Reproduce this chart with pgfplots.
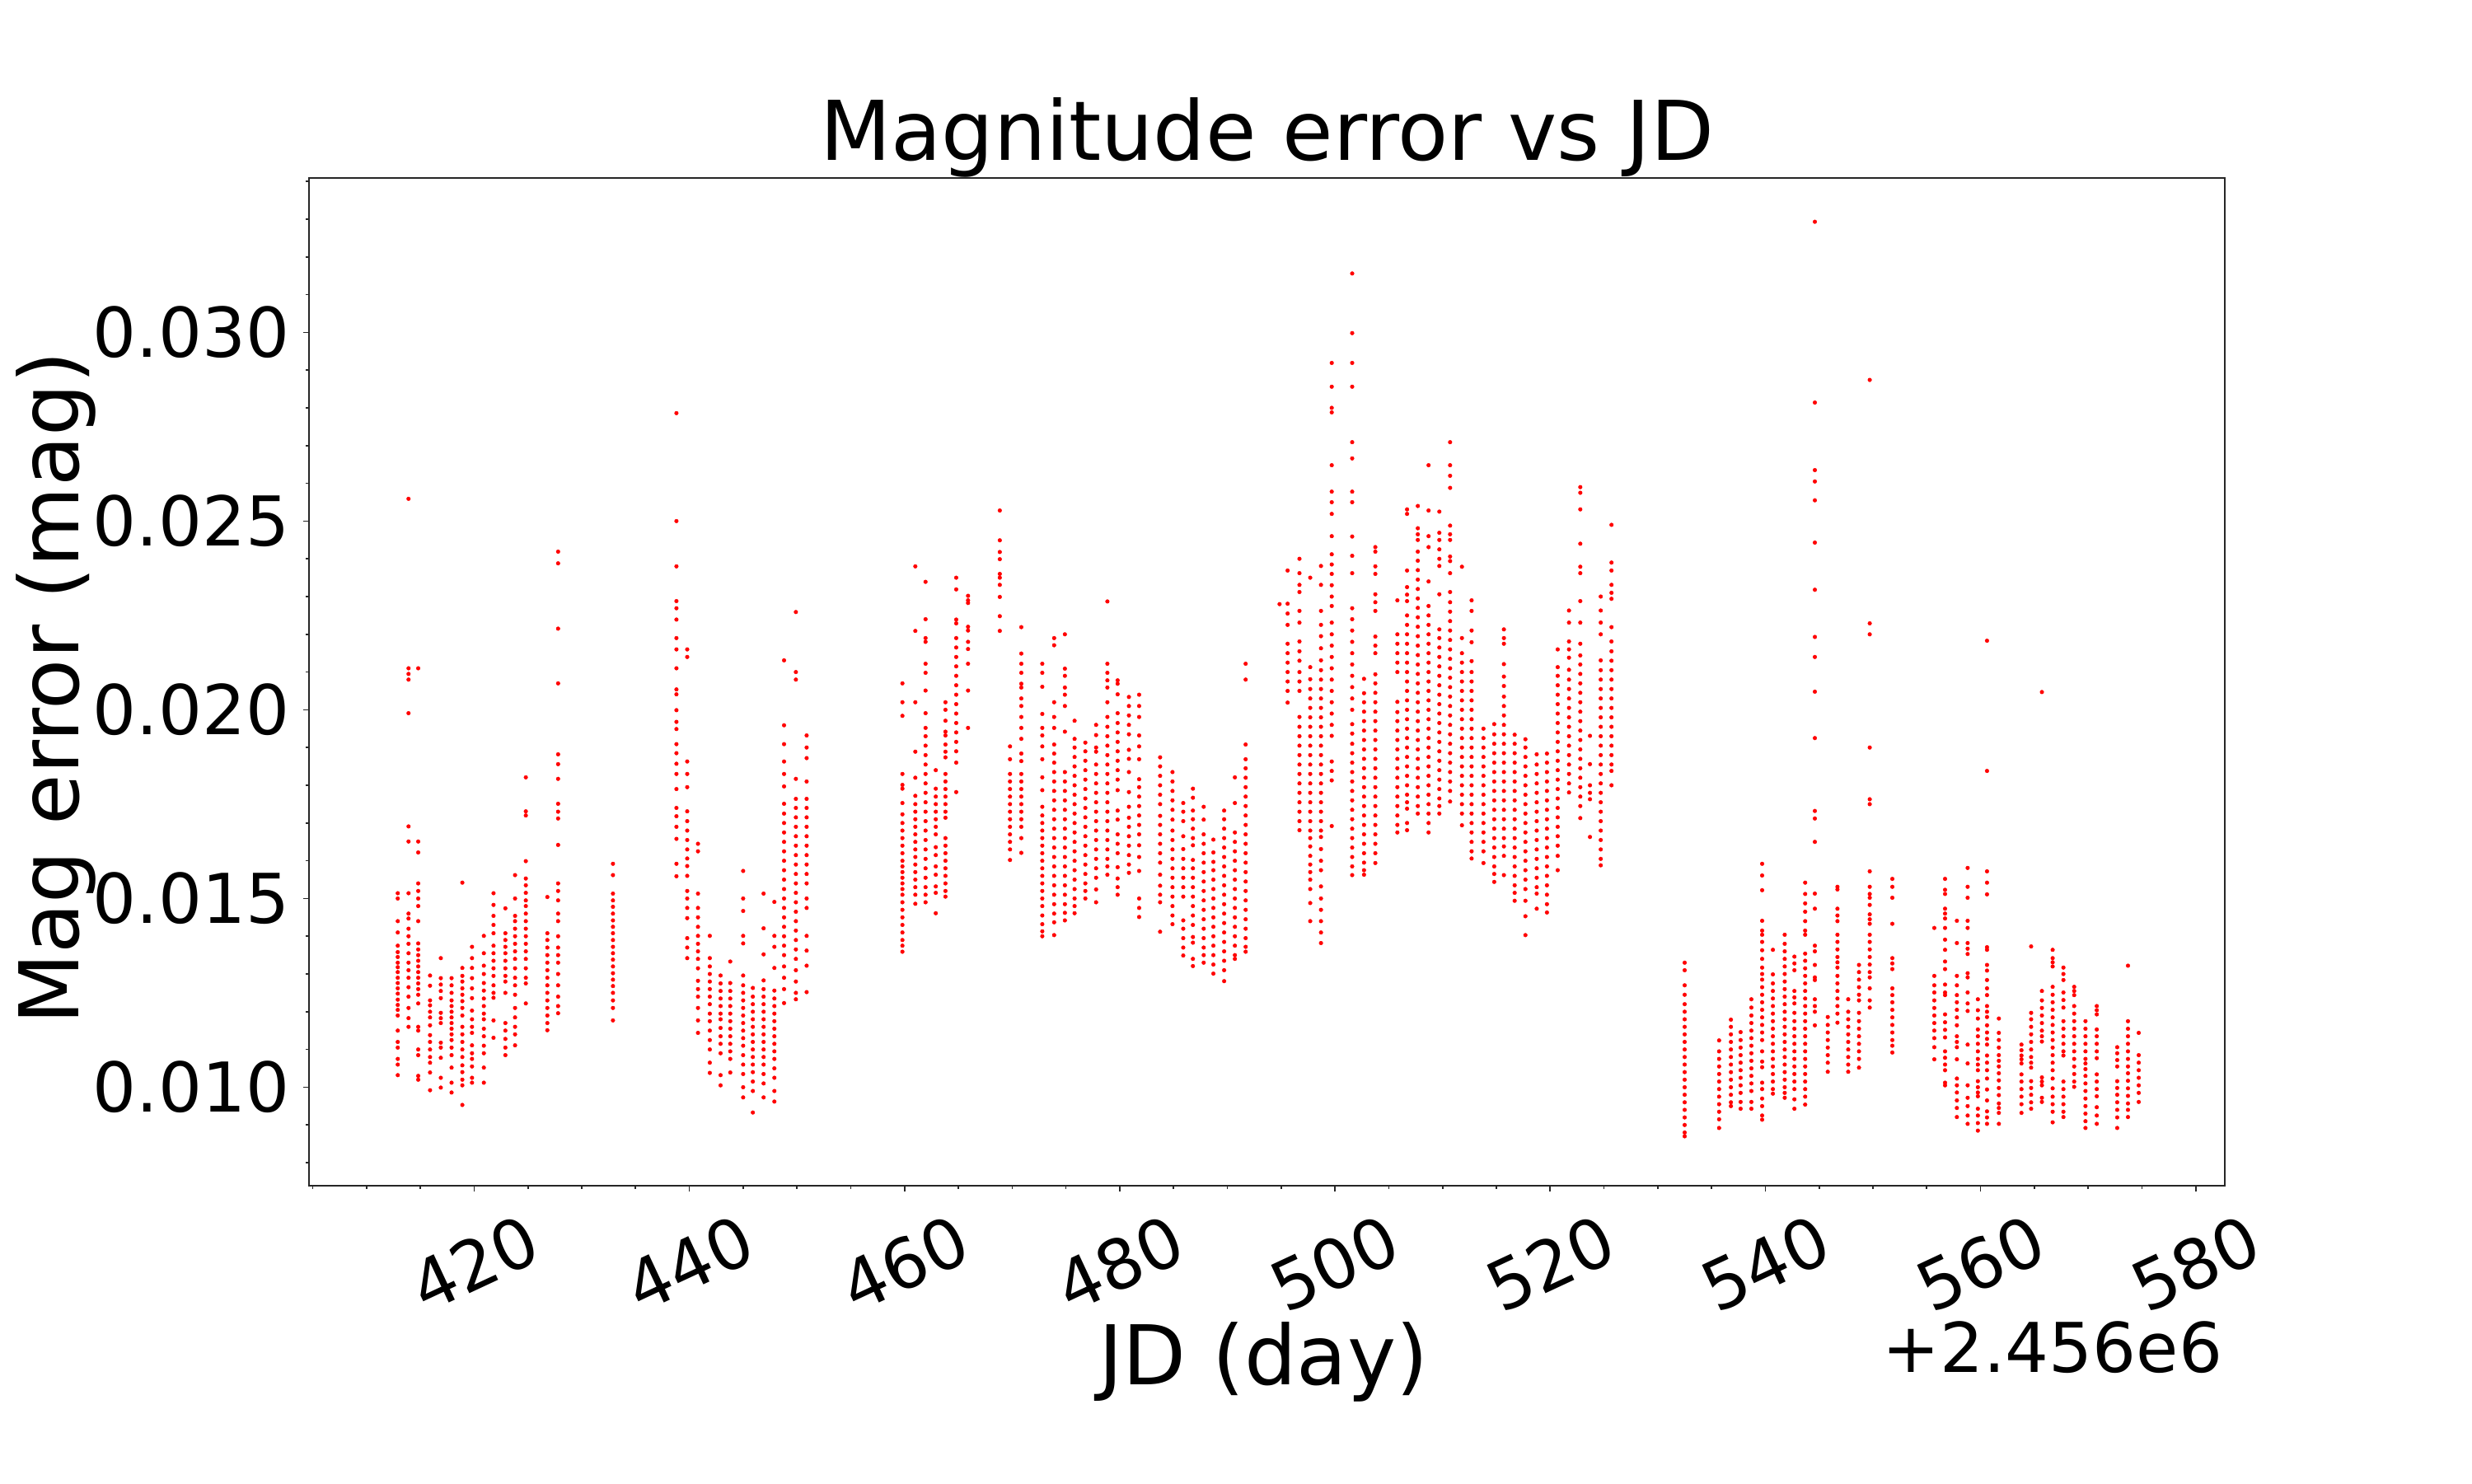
\documentclass[border=0pt]{standalone}
\usepackage{fontspec}
\setmainfont{DejaVu Sans}
\usepackage{graphicx}
\usepackage{pgfplots}
\pgfplotsset{compat=1.18}
\begin{document}
\begin{tikzpicture}
\path[use as bounding box] (0,0) rectangle (720pt,432pt);
\begin{axis}[
  at={(90pt,86.64pt)}, anchor=south west,
  width=558pt, height=293.52pt, scale only axis,
  xmin=404.65, xmax=582.70, ymin=0.00739, ymax=0.03409,
  axis line style={black!85, line width=0.4pt},
  tick pos=left, tick align=outside,
  major tick length=1.75pt, minor tick length=1pt,
  every tick/.style={black!85, line width=0.4pt},
  scaled x ticks=false, scaled y ticks=false,
  xtick={420,440,460,480,500,520,540,560,580},
  xticklabels={\rotatebox{25}{420},\rotatebox{25}{440},\rotatebox{25}{460},\rotatebox{25}{480},\rotatebox{25}{500},\rotatebox{25}{520},\rotatebox{25}{540},\rotatebox{25}{560},\rotatebox{25}{580}},
  minor xtick={405,410,...,580},
  ytick={0.010,0.015,0.020,0.025,0.030},
  yticklabels={0.010,0.015,0.020,0.025,0.030},
  minor ytick={0.008,0.009,0.010,0.011,0.012,0.013,0.014,0.015,0.016,0.017,0.018,0.019,0.020,0.021,0.022,0.023,0.024,0.025,0.026,0.027,0.028,0.029,0.030,0.031,0.032,0.033,0.034},
  tick label style={font=\fontsize{20}{24}\selectfont, black},
  xticklabel style={anchor=north, inner sep=0pt, yshift=-5.8pt},
  yticklabel style={anchor=east, inner sep=0pt, xshift=-3.7pt},
]
\addplot[color=red, only marks, mark=*, mark size=0.55pt, mark options={solid, fill=red, draw=red, line width=0.1pt}] coordinates {
(412.9,0.01514)(412.9,0.01500)(412.9,0.01440)(412.9,0.01410)(412.9,0.01375)(412.9,0.01358)(412.9,0.01345)(412.9,0.01330)(412.9,0.01318)(412.9,0.01305)(412.9,0.01290)(412.9,0.01276)(412.9,0.01262)(412.9,0.01248)(412.9,0.01232)(412.9,0.01218)(412.9,0.01205)(412.9,0.01190)(412.9,0.01150)(412.9,0.01120)(412.9,0.01105)(412.9,0.01075)(412.9,0.01060)(412.9,0.01032)
(413.9,0.02559)(413.9,0.02110)(413.9,0.02095)(413.9,0.02080)(413.9,0.01991)(413.9,0.01691)(413.9,0.01651)(413.9,0.01514)(413.9,0.01460)(413.9,0.01447)(413.9,0.01420)(413.9,0.01400)(413.9,0.01380)(413.9,0.01355)(413.9,0.01330)(413.9,0.01310)(413.9,0.01290)(413.9,0.01265)(413.9,0.01240)(413.9,0.01210)(413.9,0.01183)(413.9,0.01160)
(414.8,0.02110)(414.8,0.01651)(414.8,0.01622)(414.8,0.01540)(414.8,0.01520)(414.8,0.01500)(414.8,0.01480)(414.8,0.01440)(414.8,0.01381)(414.8,0.01365)(414.8,0.01350)(414.8,0.01335)(414.8,0.01320)(414.8,0.01305)(414.8,0.01290)(414.8,0.01275)(414.8,0.01260)(414.8,0.01245)(414.8,0.01222)(414.8,0.01160)(414.8,0.01150)(414.8,0.01100)(414.8,0.01085)(414.8,0.01030)(414.8,0.01020)
(415.9,0.01296)(415.9,0.01269)(415.9,0.01230)(415.9,0.01217)(415.9,0.01200)(415.9,0.01185)(415.9,0.01164)(415.9,0.01138)(415.9,0.01120)(415.9,0.01100)(415.9,0.01080)(415.9,0.01065)(415.9,0.01039)(415.9,0.00992)
(416.9,0.01342)(416.9,0.01289)(416.9,0.01272)(416.9,0.01255)(416.9,0.01236)(416.9,0.01197)(416.9,0.01183)(416.9,0.01170)(416.9,0.01118)(416.9,0.01105)(416.9,0.01078)(416.9,0.01025)(416.9,0.00999)
(417.9,0.01289)(417.9,0.01270)(417.9,0.01250)(417.9,0.01230)(417.9,0.01215)(417.9,0.01200)(417.9,0.01185)(417.9,0.01170)(417.9,0.01155)(417.9,0.01140)(417.9,0.01125)(417.9,0.01105)(417.9,0.01085)(417.9,0.01052)(417.9,0.01012)(417.9,0.00986)
(418.9,0.01542)(418.9,0.01316)(418.9,0.01295)(418.9,0.01280)(418.9,0.01262)(418.9,0.01245)(418.9,0.01228)(418.9,0.01210)(418.9,0.01190)(418.9,0.01160)(418.9,0.01140)(418.9,0.01120)(418.9,0.01100)(418.9,0.01080)(418.9,0.01058)(418.9,0.01040)(418.9,0.01020)(418.9,0.01005)(418.9,0.00953)
(419.8,0.01372)(419.8,0.01342)(419.8,0.01316)(419.8,0.01289)(419.8,0.01262)(419.8,0.01236)(419.8,0.01203)(419.8,0.01180)(419.8,0.01160)(419.8,0.01144)(419.8,0.01111)(419.8,0.01090)(419.8,0.01075)(419.8,0.01055)(419.8,0.01025)(419.8,0.01012)
(420.9,0.01401)(420.9,0.01355)(420.9,0.01322)(420.9,0.01300)(420.9,0.01276)(420.9,0.01256)(420.9,0.01235)(420.9,0.01215)(420.9,0.01195)(420.9,0.01180)(420.9,0.01155)(420.9,0.01135)(420.9,0.01110)(420.9,0.01090)(420.9,0.01052)(420.9,0.01012)
(421.8,0.01514)(421.8,0.01483)(421.8,0.01454)(421.8,0.01430)(421.8,0.01408)(421.8,0.01375)(421.8,0.01355)(421.8,0.01335)(421.8,0.01315)(421.8,0.01295)(421.8,0.01270)(421.8,0.01250)(421.8,0.01237)(421.8,0.01177)(421.8,0.01131)
(422.9,0.01474)(422.9,0.01408)(422.9,0.01390)(422.9,0.01372)(422.9,0.01355)(422.9,0.01335)(422.9,0.01315)(422.9,0.01295)(422.9,0.01280)(422.9,0.01250)(422.9,0.01170)(422.9,0.01150)(422.9,0.01128)(422.9,0.01105)(422.9,0.01085)
(423.8,0.01562)(423.8,0.01500)(423.8,0.01454)(423.8,0.01440)(423.8,0.01420)(423.8,0.01400)(423.8,0.01380)(423.8,0.01360)(423.8,0.01340)(423.8,0.01315)(423.8,0.01290)(423.8,0.01270)(423.8,0.01245)(423.8,0.01210)(423.8,0.01185)(423.8,0.01160)(423.8,0.01140)(423.8,0.01111)
(424.8,0.01821)(424.8,0.01731)(424.8,0.01720)(424.8,0.01599)(424.8,0.01553)(424.8,0.01535)(424.8,0.01515)(424.8,0.01495)(424.8,0.01480)(424.8,0.01460)(424.8,0.01440)(424.8,0.01420)(424.8,0.01400)(424.8,0.01380)(424.8,0.01360)(424.8,0.01340)(424.8,0.01315)(424.8,0.01290)(424.8,0.01275)(424.8,0.01222)
(426.8,0.01504)(426.8,0.01408)(426.8,0.01390)(426.8,0.01370)(426.8,0.01350)(426.8,0.01330)(426.8,0.01310)(426.8,0.01290)(426.8,0.01270)(426.8,0.01250)(426.8,0.01230)(426.8,0.01210)(426.8,0.01190)(426.8,0.01170)(426.8,0.01151)
(427.8,0.02419)(427.8,0.02388)(427.8,0.02215)(427.8,0.02070)(427.8,0.01882)(427.8,0.01856)(427.8,0.01817)(427.8,0.01751)(427.8,0.01730)(427.8,0.01712)(427.8,0.01642)(427.8,0.01540)(427.8,0.01520)(427.8,0.01495)(427.8,0.01460)(427.8,0.01440)(427.8,0.01400)(427.8,0.01370)(427.8,0.01350)(427.8,0.01330)(427.8,0.01300)(427.8,0.01270)(427.8,0.01240)(427.8,0.01215)(427.8,0.01196)
(432.9,0.01592)(432.9,0.01562)(432.9,0.01513)(432.9,0.01495)(432.9,0.01478)(432.9,0.01460)(432.9,0.01442)(432.9,0.01425)(432.9,0.01408)(432.9,0.01390)(432.9,0.01372)(432.9,0.01355)(432.9,0.01338)(432.9,0.01320)(432.9,0.01302)(432.9,0.01285)(432.9,0.01268)(432.9,0.01250)(432.9,0.01230)(432.9,0.01210)(432.9,0.01177)
(438.8,0.02786)(438.8,0.02500)(438.8,0.02380)(438.8,0.02288)(438.8,0.02269)(438.8,0.02239)(438.8,0.02190)(438.8,0.02160)(438.8,0.02110)(438.8,0.02054)(438.8,0.02041)(438.8,0.01999)(438.8,0.01968)(438.8,0.01949)(438.8,0.01909)(438.8,0.01885)(438.8,0.01857)(438.8,0.01830)(438.8,0.01790)(438.8,0.01740)(438.8,0.01718)(438.8,0.01690)(438.8,0.01658)(438.8,0.01592)(438.8,0.01559)
(439.8,0.02160)(439.8,0.02140)(439.8,0.01863)(439.8,0.01830)(439.8,0.01795)(439.8,0.01731)(439.8,0.01705)(439.8,0.01680)(439.8,0.01655)(439.8,0.01630)(439.8,0.01606)(439.8,0.01586)(439.8,0.01560)(439.8,0.01520)(439.8,0.01500)(439.8,0.01475)(439.8,0.01448)(439.8,0.01395)(439.8,0.01370)(439.8,0.01342)
(440.8,0.01645)(440.8,0.01625)(440.8,0.01513)(440.8,0.01475)(440.8,0.01450)(440.8,0.01425)(440.8,0.01401)(440.8,0.01380)(440.8,0.01360)(440.8,0.01340)(440.8,0.01315)(440.8,0.01282)(440.8,0.01260)(440.8,0.01240)(440.8,0.01210)(440.8,0.01177)(440.8,0.01144)
(441.9,0.01401)(441.9,0.01342)(441.9,0.01320)(441.9,0.01300)(441.9,0.01280)(441.9,0.01260)(441.9,0.01240)(441.9,0.01220)(441.9,0.01195)(441.9,0.01175)(441.9,0.01150)(441.9,0.01125)(441.9,0.01100)(441.9,0.01065)(441.9,0.01038)
(442.9,0.01296)(442.9,0.01275)(442.9,0.01255)(442.9,0.01235)(442.9,0.01215)(442.9,0.01195)(442.9,0.01180)(442.9,0.01157)(442.9,0.01135)(442.9,0.01115)(442.9,0.01090)(442.9,0.01032)(442.9,0.01005)
(443.8,0.01333)(443.8,0.01276)(443.8,0.01255)(443.8,0.01235)(443.8,0.01215)(443.8,0.01195)(443.8,0.01175)(443.8,0.01155)(443.8,0.01135)(443.8,0.01115)(443.8,0.01095)(443.8,0.01075)(443.8,0.01039)
(445.0,0.01573)(445.0,0.01500)(445.0,0.01467)(445.0,0.01401)(445.0,0.01381)(445.0,0.01296)(445.0,0.01270)(445.0,0.01250)(445.0,0.01230)(445.0,0.01210)(445.0,0.01190)(445.0,0.01170)(445.0,0.01150)(445.0,0.01130)(445.0,0.01110)(445.0,0.01085)(445.0,0.01060)(445.0,0.01035)(445.0,0.01000)(445.0,0.00973)
(445.9,0.01263)(445.9,0.01240)(445.9,0.01220)(445.9,0.01200)(445.9,0.01180)(445.9,0.01160)(445.9,0.01140)(445.9,0.01120)(445.9,0.01100)(445.9,0.01080)(445.9,0.01060)(445.9,0.01040)(445.9,0.01015)(445.9,0.00990)(445.9,0.00933)
(446.9,0.01513)(446.9,0.01421)(446.9,0.01352)(446.9,0.01283)(446.9,0.01260)(446.9,0.01240)(446.9,0.01220)(446.9,0.01200)(446.9,0.01180)(446.9,0.01160)(446.9,0.01140)(446.9,0.01120)(446.9,0.01100)(446.9,0.01080)(446.9,0.01060)(446.9,0.01035)(446.9,0.01010)(446.9,0.00973)
(447.9,0.01491)(447.9,0.01401)(447.9,0.01372)(447.9,0.01316)(447.9,0.01256)(447.9,0.01235)(447.9,0.01215)(447.9,0.01195)(447.9,0.01175)(447.9,0.01155)(447.9,0.01135)(447.9,0.01115)(447.9,0.01095)(447.9,0.01075)(447.9,0.01050)(447.9,0.01025)(447.9,0.00990)(447.9,0.00962)
(448.8,0.02131)(448.8,0.01959)(448.8,0.01909)(448.8,0.01863)(448.8,0.01830)(448.8,0.01797)(448.8,0.01751)(448.8,0.01725)(448.8,0.01700)(448.8,0.01675)(448.8,0.01650)(448.8,0.01625)(448.8,0.01600)(448.8,0.01575)(448.8,0.01550)(448.8,0.01525)(448.8,0.01500)(448.8,0.01475)(448.8,0.01450)(448.8,0.01425)(448.8,0.01400)(448.8,0.01375)(448.8,0.01350)(448.8,0.01320)(448.8,0.01290)(448.8,0.01260)(448.8,0.01223)
(449.9,0.02259)(449.9,0.02100)(449.9,0.02080)(449.9,0.01817)(449.9,0.01764)(449.9,0.01740)(449.9,0.01715)(449.9,0.01690)(449.9,0.01665)(449.9,0.01640)(449.9,0.01615)(449.9,0.01590)(449.9,0.01565)(449.9,0.01540)(449.9,0.01515)(449.9,0.01490)(449.9,0.01465)(449.9,0.01440)(449.9,0.01415)(449.9,0.01390)(449.9,0.01365)(449.9,0.01340)(449.9,0.01310)(449.9,0.01280)(449.9,0.01250)(449.9,0.01233)
(450.9,0.01932)(450.9,0.01900)(450.9,0.01872)(450.9,0.01810)(450.9,0.01764)(450.9,0.01740)(450.9,0.01715)(450.9,0.01690)(450.9,0.01665)(450.9,0.01640)(450.9,0.01615)(450.9,0.01590)(450.9,0.01565)(450.9,0.01540)(450.9,0.01500)(450.9,0.01475)(450.9,0.01401)(450.9,0.01362)(450.9,0.01322)(450.9,0.01252)
(459.8,0.02070)(459.8,0.02020)(459.8,0.01984)(459.8,0.01830)(459.8,0.01801)(459.8,0.01791)(459.8,0.01753)(459.8,0.01723)(459.8,0.01700)(459.8,0.01680)(459.8,0.01660)(459.8,0.01640)(459.8,0.01620)(459.8,0.01600)(459.8,0.01585)(459.8,0.01570)(459.8,0.01555)(459.8,0.01540)(459.8,0.01525)(459.8,0.01510)(459.8,0.01490)(459.8,0.01470)(459.8,0.01450)(459.8,0.01430)(459.8,0.01410)(459.8,0.01390)(459.8,0.01375)(459.8,0.01359)
(461.0,0.02380)(461.0,0.02209)(461.0,0.02020)(461.0,0.01889)(461.0,0.01820)(461.0,0.01772)(461.0,0.01750)(461.0,0.01730)(461.0,0.01710)(461.0,0.01690)(461.0,0.01670)(461.0,0.01650)(461.0,0.01630)(461.0,0.01610)(461.0,0.01590)(461.0,0.01570)(461.0,0.01550)(461.0,0.01530)(461.0,0.01510)(461.0,0.01486)
(461.95,0.02339)(461.95,0.02240)(461.95,0.02190)(461.95,0.02180)(461.95,0.02122)(461.95,0.02098)(461.95,0.02051)(461.95,0.01991)(461.95,0.01952)(461.95,0.01930)(461.95,0.01905)(461.95,0.01880)(461.95,0.01855)(461.95,0.01830)(461.95,0.01805)(461.95,0.01780)(461.95,0.01755)(461.95,0.01730)(461.95,0.01705)(461.95,0.01680)(461.95,0.01655)(461.95,0.01630)(461.95,0.01605)(461.95,0.01580)(461.95,0.01555)(461.95,0.01530)(461.95,0.01510)(461.95,0.01490)
(462.9,0.01840)(462.9,0.01791)(462.9,0.01770)(462.9,0.01750)(462.9,0.01730)(462.9,0.01710)(462.9,0.01690)(462.9,0.01670)(462.9,0.01636)(462.9,0.01615)(462.9,0.01585)(462.9,0.01563)(462.9,0.01532)(462.9,0.01515)(462.9,0.01461)
(463.8,0.02020)(463.8,0.02000)(463.8,0.01971)(463.8,0.01942)(463.8,0.01932)(463.8,0.01908)(463.8,0.01889)(463.8,0.01874)(463.8,0.01830)(463.8,0.01810)(463.8,0.01790)(463.8,0.01770)(463.8,0.01750)(463.8,0.01730)(463.8,0.01714)(463.8,0.01660)(463.8,0.01640)(463.8,0.01620)(463.8,0.01600)(463.8,0.01580)(463.8,0.01560)(463.8,0.01540)(463.8,0.01520)(463.8,0.01505)
(464.8,0.02350)(464.8,0.02319)(464.8,0.02239)(464.8,0.02229)(464.8,0.02190)(464.8,0.02165)(464.8,0.02140)(464.8,0.02115)(464.8,0.02090)(464.8,0.02065)(464.8,0.02040)(464.8,0.02015)(464.8,0.01990)(464.8,0.01965)(464.8,0.01940)(464.8,0.01915)(464.8,0.01890)(464.8,0.01860)(464.8,0.01782)
(465.9,0.02302)(465.9,0.02290)(465.9,0.02283)(465.9,0.02220)(465.9,0.02210)(465.9,0.02180)(465.9,0.02161)(465.9,0.02122)(465.9,0.02051)(465.9,0.01952)
(468.85,0.02528)(468.85,0.02449)(468.85,0.02418)(468.85,0.02399)(468.85,0.02360)(468.85,0.02350)(468.85,0.02331)(468.85,0.02299)(468.85,0.02248)(468.85,0.02209)
(469.8,0.01903)(469.8,0.01869)(469.8,0.01830)(469.8,0.01810)(469.8,0.01790)(469.8,0.01770)(469.8,0.01750)(469.8,0.01730)(469.8,0.01710)(469.8,0.01690)(469.8,0.01670)(469.8,0.01650)(469.8,0.01630)(469.8,0.01602)
(470.85,0.02219)(470.85,0.02149)(470.85,0.02122)(470.85,0.02098)(470.85,0.02069)(470.85,0.02059)(470.85,0.02030)(470.85,0.02010)(470.85,0.01981)(470.85,0.01952)(470.85,0.01923)(470.85,0.01884)(470.85,0.01864)(470.85,0.01830)(470.85,0.01810)(470.85,0.01790)(470.85,0.01770)(470.85,0.01750)(470.85,0.01730)(470.85,0.01710)(470.85,0.01690)(470.85,0.01660)(470.85,0.01621)
(472.8,0.02122)(472.8,0.02098)(472.8,0.02061)(472.8,0.01989)(472.8,0.01952)(472.8,0.01932)(472.8,0.01903)(472.8,0.01869)(472.8,0.01821)(472.8,0.01787)(472.8,0.01743)(472.8,0.01720)(472.8,0.01700)(472.8,0.01680)(472.8,0.01660)(472.8,0.01640)(472.8,0.01620)(472.8,0.01600)(472.8,0.01580)(472.8,0.01560)(472.8,0.01540)(472.8,0.01520)(472.8,0.01500)(472.8,0.01480)(472.8,0.01455)(472.8,0.01432)(472.8,0.01413)(472.8,0.01400)
(473.9,0.02190)(473.9,0.02171)(473.9,0.02020)(473.9,0.01981)(473.9,0.01952)(473.9,0.01908)(473.9,0.01884)(473.9,0.01860)(473.9,0.01835)(473.9,0.01810)(473.9,0.01785)(473.9,0.01760)(473.9,0.01735)(473.9,0.01710)(473.9,0.01685)(473.9,0.01660)(473.9,0.01635)(473.9,0.01610)(473.9,0.01585)(473.9,0.01560)(473.9,0.01535)(473.9,0.01510)(473.9,0.01485)(473.9,0.01460)(473.9,0.01437)(473.9,0.01403)
(474.9,0.02200)(474.9,0.02109)(474.9,0.02090)(474.9,0.02059)(474.9,0.02040)(474.9,0.02010)(474.9,0.01942)(474.9,0.01835)(474.9,0.01810)(474.9,0.01785)(474.9,0.01760)(474.9,0.01735)(474.9,0.01710)(474.9,0.01685)(474.9,0.01660)(474.9,0.01635)(474.9,0.01610)(474.9,0.01585)(474.9,0.01560)(474.9,0.01535)(474.9,0.01510)(474.9,0.01485)(474.9,0.01462)(474.9,0.01442)
(475.8,0.01971)(475.8,0.01923)(475.8,0.01900)(475.8,0.01875)(475.8,0.01850)(475.8,0.01825)(475.8,0.01800)(475.8,0.01775)(475.8,0.01750)(475.8,0.01725)(475.8,0.01700)(475.8,0.01675)(475.8,0.01650)(475.8,0.01625)(475.8,0.01600)(475.8,0.01575)(475.8,0.01550)(475.8,0.01525)(475.8,0.01500)(475.8,0.01480)(475.8,0.01461)
(476.8,0.01913)(476.8,0.01890)(476.8,0.01865)(476.8,0.01840)(476.8,0.01815)(476.8,0.01790)(476.8,0.01765)(476.8,0.01740)(476.8,0.01715)(476.8,0.01690)(476.8,0.01665)(476.8,0.01640)(476.8,0.01615)(476.8,0.01590)(476.8,0.01565)(476.8,0.01540)(476.8,0.01520)(476.8,0.01500)
(477.8,0.01960)(477.8,0.01933)(477.8,0.01900)(477.8,0.01889)(477.8,0.01855)(477.8,0.01830)(477.8,0.01805)(477.8,0.01780)(477.8,0.01755)(477.8,0.01730)(477.8,0.01705)(477.8,0.01680)(477.8,0.01655)(477.8,0.01630)(477.8,0.01605)(477.8,0.01580)(477.8,0.01555)(477.8,0.01524)(477.8,0.01490)
(478.85,0.02287)(478.85,0.02122)(478.85,0.02098)(478.85,0.02078)(478.85,0.02059)(478.85,0.02020)(478.85,0.01981)(478.85,0.01955)(478.85,0.01930)(478.85,0.01905)(478.85,0.01880)(478.85,0.01855)(478.85,0.01830)(478.85,0.01805)(478.85,0.01780)(478.85,0.01755)(478.85,0.01730)(478.85,0.01705)(478.85,0.01680)(478.85,0.01655)(478.85,0.01630)(478.85,0.01605)(478.85,0.01585)(478.85,0.01563)
(479.8,0.02078)(479.8,0.02069)(479.8,0.02041)(479.8,0.01991)(479.8,0.01965)(479.8,0.01940)(479.8,0.01915)(479.8,0.01890)(479.8,0.01865)(479.8,0.01840)(479.8,0.01815)(479.8,0.01787)(479.8,0.01733)(479.8,0.01709)(479.8,0.01670)(479.8,0.01645)(479.8,0.01620)(479.8,0.01583)(479.8,0.01553)(479.8,0.01530)(479.8,0.01510)
(480.85,0.02034)(480.85,0.02010)(480.85,0.01985)(480.85,0.01960)(480.85,0.01935)(480.85,0.01894)(480.85,0.01870)(480.85,0.01835)(480.85,0.01782)(480.85,0.01743)(480.85,0.01714)(480.85,0.01690)(480.85,0.01665)(480.85,0.01640)(480.85,0.01615)(480.85,0.01590)(480.85,0.01568)
(481.8,0.02040)(481.8,0.02010)(481.8,0.01981)(481.8,0.01932)(481.8,0.01903)(481.8,0.01869)(481.8,0.01816)(481.8,0.01795)(481.8,0.01770)(481.8,0.01745)(481.8,0.01720)(481.8,0.01695)(481.8,0.01670)(481.8,0.01641)(481.8,0.01610)(481.8,0.01573)(481.8,0.01500)(481.8,0.01475)(481.8,0.01451)
(483.75,0.01874)(483.75,0.01850)(483.75,0.01825)(483.75,0.01800)(483.75,0.01775)(483.75,0.01750)(483.75,0.01719)(483.75,0.01695)(483.75,0.01670)(483.75,0.01645)(483.75,0.01620)(483.75,0.01595)(483.75,0.01563)(483.75,0.01534)(483.75,0.01510)(483.75,0.01490)(483.75,0.01412)
(484.9,0.01835)(484.9,0.01810)(484.9,0.01785)(484.9,0.01760)(484.9,0.01735)(484.9,0.01709)(484.9,0.01680)(484.9,0.01655)(484.9,0.01630)(484.9,0.01605)(484.9,0.01580)(484.9,0.01555)(484.9,0.01530)(484.9,0.01505)(484.9,0.01480)(484.9,0.01455)(484.9,0.01432)
(485.9,0.01753)(485.9,0.01730)(485.9,0.01705)(485.9,0.01665)(485.9,0.01631)(485.9,0.01605)(485.9,0.01580)(485.9,0.01555)(485.9,0.01530)(485.9,0.01505)(485.9,0.01442)(485.9,0.01420)(485.9,0.01395)(485.9,0.01370)(485.9,0.01349)
(486.8,0.01791)(486.8,0.01767)(486.8,0.01733)(486.8,0.01710)(486.8,0.01685)(486.8,0.01660)(486.8,0.01641)(486.8,0.01602)(486.8,0.01580)(486.8,0.01555)(486.8,0.01530)(486.8,0.01505)(486.8,0.01480)(486.8,0.01455)(486.8,0.01430)(486.8,0.01398)(486.8,0.01383)(486.8,0.01340)(486.8,0.01321)
(487.8,0.01743)(487.8,0.01709)(487.8,0.01670)(487.8,0.01645)(487.8,0.01620)(487.8,0.01595)(487.8,0.01570)(487.8,0.01545)(487.8,0.01520)(487.8,0.01495)(487.8,0.01470)(487.8,0.01445)(487.8,0.01420)(487.8,0.01395)(487.8,0.01370)(487.8,0.01350)(487.8,0.01330)
(488.7,0.01656)(488.7,0.01622)(488.7,0.01597)(488.7,0.01575)(488.7,0.01550)(488.7,0.01525)(488.7,0.01500)(488.7,0.01475)(488.7,0.01450)(488.7,0.01425)(488.7,0.01400)(488.7,0.01375)(488.7,0.01350)(488.7,0.01325)(488.7,0.01301)
(489.7,0.01733)(489.7,0.01710)(489.7,0.01685)(489.7,0.01660)(489.7,0.01635)(489.7,0.01610)(489.7,0.01585)(489.7,0.01560)(489.7,0.01535)(489.7,0.01510)(489.7,0.01485)(489.7,0.01460)(489.7,0.01435)(489.7,0.01410)(489.7,0.01385)(489.7,0.01360)(489.7,0.01335)(489.7,0.01310)(489.7,0.01281)
(490.7,0.01821)(490.7,0.01753)(490.7,0.01675)(490.7,0.01650)(490.7,0.01625)(490.7,0.01600)(490.7,0.01575)(490.7,0.01550)(490.7,0.01525)(490.7,0.01500)(490.7,0.01475)(490.7,0.01450)(490.7,0.01425)(490.7,0.01400)(490.7,0.01375)(490.7,0.01350)(490.7,0.01340)
(491.7,0.02122)(491.7,0.02080)(491.7,0.01908)(491.7,0.01869)(491.7,0.01845)(491.7,0.01820)(491.7,0.01795)(491.7,0.01770)(491.7,0.01745)(491.7,0.01720)(491.7,0.01695)(491.7,0.01670)(491.7,0.01645)(491.7,0.01620)(491.7,0.01595)(491.7,0.01570)(491.7,0.01545)(491.7,0.01520)(491.7,0.01495)(491.7,0.01470)(491.7,0.01445)(491.7,0.01420)(491.7,0.01395)(491.7,0.01372)(491.7,0.01359)
(494.85,0.02280)
(495.6,0.02369)(495.6,0.02281)(495.6,0.02255)(495.6,0.02225)(495.6,0.02175)(495.6,0.02150)(495.6,0.02125)(495.6,0.02100)(495.6,0.02075)(495.6,0.02050)(495.6,0.02019)
(496.7,0.02400)(496.7,0.02362)(496.7,0.02331)(496.7,0.02312)(496.7,0.02262)(496.7,0.02231)(496.7,0.02181)(496.7,0.02155)(496.7,0.02130)(496.7,0.02100)(496.7,0.02075)(496.7,0.02050)(496.7,0.01981)(496.7,0.01955)(496.7,0.01930)(496.7,0.01905)(496.7,0.01880)(496.7,0.01855)(496.7,0.01830)(496.7,0.01805)(496.7,0.01780)(496.7,0.01755)(496.7,0.01730)(496.7,0.01705)(496.7,0.01681)
(497.7,0.02350)(497.7,0.02113)(497.7,0.02081)(497.7,0.02055)(497.7,0.02030)(497.7,0.02005)(497.7,0.01980)(497.7,0.01955)(497.7,0.01930)(497.7,0.01905)(497.7,0.01880)(497.7,0.01855)(497.7,0.01830)(497.7,0.01805)(497.7,0.01780)(497.7,0.01755)(497.7,0.01730)(497.7,0.01705)(497.7,0.01680)(497.7,0.01660)(497.7,0.01638)(497.7,0.01613)(497.7,0.01590)(497.7,0.01570)(497.7,0.01550)(497.7,0.01525)(497.7,0.01488)(497.7,0.01440)
(498.7,0.02381)(498.7,0.02331)(498.7,0.02262)(498.7,0.02225)(498.7,0.02195)(498.7,0.02163)(498.7,0.02131)(498.7,0.02105)(498.7,0.02080)(498.7,0.02055)(498.7,0.02030)(498.7,0.02005)(498.7,0.01980)(498.7,0.01955)(498.7,0.01930)(498.7,0.01905)(498.7,0.01880)(498.7,0.01855)(498.7,0.01830)(498.7,0.01805)(498.7,0.01780)(498.7,0.01755)(498.7,0.01730)(498.7,0.01705)(498.7,0.01680)(498.7,0.01663)(498.7,0.01631)(498.7,0.01600)(498.7,0.01575)(498.7,0.01532)(498.7,0.01500)(498.7,0.01470)(498.7,0.01440)(498.7,0.01410)(498.7,0.01382)
(499.7,0.02919)(499.7,0.02856)(499.7,0.02800)(499.7,0.02788)(499.7,0.02648)(499.7,0.02578)(499.7,0.02550)(499.7,0.02519)(499.7,0.02460)(499.7,0.02412)(499.7,0.02385)(499.7,0.02360)(499.7,0.02330)(499.7,0.02300)(499.7,0.02275)(499.7,0.02231)(499.7,0.02200)(499.7,0.02170)(499.7,0.02140)(499.7,0.02110)(499.7,0.02080)(499.7,0.02050)(499.7,0.02020)(499.7,0.01990)(499.7,0.01960)(499.7,0.01931)(499.7,0.01863)(499.7,0.01838)(499.7,0.01813)(499.7,0.01692)
(501.6,0.03156)(501.6,0.02998)(501.6,0.02919)(501.6,0.02856)(501.6,0.02709)(501.6,0.02666)(501.6,0.02578)(501.6,0.02550)(501.6,0.02459)(501.6,0.02408)(501.6,0.02362)(501.6,0.02269)(501.6,0.02240)(501.6,0.02210)(501.6,0.02180)(501.6,0.02150)(501.6,0.02120)(501.6,0.02090)(501.6,0.02060)(501.6,0.02030)(501.6,0.02000)(501.6,0.01962)(501.6,0.01937)(501.6,0.01910)(501.6,0.01885)(501.6,0.01860)(501.6,0.01835)(501.6,0.01810)(501.6,0.01785)(501.6,0.01760)(501.6,0.01735)(501.6,0.01710)(501.6,0.01685)(501.6,0.01660)(501.6,0.01635)(501.6,0.01610)(501.6,0.01585)(501.6,0.01562)
(502.7,0.02082)(502.7,0.02044)(502.7,0.02020)(502.7,0.01995)(502.7,0.01970)(502.7,0.01945)(502.7,0.01920)(502.7,0.01895)(502.7,0.01870)(502.7,0.01845)(502.7,0.01820)(502.7,0.01795)(502.7,0.01770)(502.7,0.01745)(502.7,0.01720)(502.7,0.01695)(502.7,0.01670)(502.7,0.01645)(502.7,0.01620)(502.7,0.01595)(502.7,0.01575)(502.7,0.01563)
(503.75,0.02431)(503.75,0.02419)(503.75,0.02380)(503.75,0.02360)(503.75,0.02306)(503.75,0.02285)(503.75,0.02262)(503.75,0.02194)(503.75,0.02170)(503.75,0.02150)(503.75,0.02094)(503.75,0.02070)(503.75,0.02045)(503.75,0.02020)(503.75,0.01995)(503.75,0.01970)(503.75,0.01945)(503.75,0.01920)(503.75,0.01895)(503.75,0.01870)(503.75,0.01845)(503.75,0.01820)(503.75,0.01795)(503.75,0.01770)(503.75,0.01745)(503.75,0.01720)(503.75,0.01695)(503.75,0.01670)(503.75,0.01645)(503.75,0.01620)(503.75,0.01594)
(505.8,0.02290)(505.8,0.02200)(505.8,0.02175)(505.8,0.02150)(505.8,0.02125)(505.8,0.02100)(505.8,0.02021)(505.8,0.01994)(505.8,0.01970)(505.8,0.01945)(505.8,0.01920)(505.8,0.01895)(505.8,0.01870)(505.8,0.01845)(505.8,0.01820)(505.8,0.01795)(505.8,0.01770)(505.8,0.01745)(505.8,0.01720)(505.8,0.01695)(505.8,0.01675)
(506.7,0.02531)(506.7,0.02519)(506.7,0.02369)(506.7,0.02325)(506.7,0.02305)(506.7,0.02288)(506.7,0.02250)(506.7,0.02225)(506.7,0.02200)(506.7,0.02175)(506.7,0.02150)(506.7,0.02125)(506.7,0.02100)(506.7,0.02075)(506.7,0.02050)(506.7,0.02025)(506.7,0.02000)(506.7,0.01975)(506.7,0.01950)(506.7,0.01925)(506.7,0.01900)(506.7,0.01875)(506.7,0.01850)(506.7,0.01825)(506.7,0.01800)(506.7,0.01775)(506.7,0.01755)(506.7,0.01738)(506.7,0.01700)(506.7,0.01681)
(507.7,0.02540)(507.7,0.02481)(507.7,0.02465)(507.7,0.02450)(507.7,0.02419)(507.7,0.02395)(507.7,0.02370)(507.7,0.02345)(507.7,0.02320)(507.7,0.02295)(507.7,0.02270)(507.7,0.02245)(507.7,0.02220)(507.7,0.02195)(507.7,0.02170)(507.7,0.02145)(507.7,0.02120)(507.7,0.02095)(507.7,0.02070)(507.7,0.02045)(507.7,0.02020)(507.7,0.01995)(507.7,0.01970)(507.7,0.01945)(507.7,0.01920)(507.7,0.01895)(507.7,0.01870)(507.7,0.01845)(507.7,0.01820)(507.7,0.01795)(507.7,0.01770)(507.7,0.01745)(507.7,0.01725)
(508.7,0.02648)(508.7,0.02528)(508.7,0.02460)(508.7,0.02431)(508.7,0.02340)(508.7,0.02275)(508.7,0.02250)(508.7,0.02225)(508.7,0.02200)(508.7,0.02175)(508.7,0.02150)(508.7,0.02125)(508.7,0.02100)(508.7,0.02075)(508.7,0.02050)(508.7,0.02025)(508.7,0.02000)(508.7,0.01975)(508.7,0.01950)(508.7,0.01925)(508.7,0.01900)(508.7,0.01875)(508.7,0.01850)(508.7,0.01825)(508.7,0.01800)(508.7,0.01775)(508.7,0.01750)(508.7,0.01725)(508.7,0.01700)(508.7,0.01675)
(509.7,0.02525)(509.7,0.02469)(509.7,0.02450)(509.7,0.02425)(509.7,0.02400)(509.7,0.02381)(509.7,0.02306)(509.7,0.02213)(509.7,0.02190)(509.7,0.02165)(509.7,0.02140)(509.7,0.02115)(509.7,0.02090)(509.7,0.02065)(509.7,0.02040)(509.7,0.02015)(509.7,0.01990)(509.7,0.01965)(509.7,0.01940)(509.7,0.01915)(509.7,0.01890)(509.7,0.01865)(509.7,0.01840)(509.7,0.01815)(509.7,0.01790)(509.7,0.01765)(509.7,0.01745)(509.7,0.01725)
(510.7,0.02709)(510.7,0.02648)(510.7,0.02620)(510.7,0.02588)(510.7,0.02488)(510.7,0.02465)(510.7,0.02450)(510.7,0.02406)(510.7,0.02394)(510.7,0.02362)(510.7,0.02312)(510.7,0.02285)(510.7,0.02260)(510.7,0.02235)(510.7,0.02210)(510.7,0.02185)(510.7,0.02160)(510.7,0.02135)(510.7,0.02110)(510.7,0.02085)(510.7,0.02060)(510.7,0.02035)(510.7,0.02010)(510.7,0.01985)(510.7,0.01960)(510.7,0.01935)(510.7,0.01910)(510.7,0.01885)(510.7,0.01860)(510.7,0.01835)(510.7,0.01810)(510.7,0.01785)(510.7,0.01757)
(511.8,0.02379)(511.8,0.02190)(511.8,0.02150)(511.8,0.02125)(511.8,0.02100)(511.8,0.02075)(511.8,0.02050)(511.8,0.02025)(511.8,0.02000)(511.8,0.01975)(511.8,0.01950)(511.8,0.01925)(511.8,0.01900)(511.8,0.01875)(511.8,0.01850)(511.8,0.01825)(511.8,0.01800)(511.8,0.01775)(511.8,0.01750)(511.8,0.01725)(511.8,0.01694)
(512.7,0.02290)(512.7,0.02262)(512.7,0.02210)(512.7,0.02179)(512.7,0.02129)(512.7,0.02100)(512.7,0.02075)(512.7,0.02050)(512.7,0.02025)(512.7,0.02000)(512.7,0.01975)(512.7,0.01950)(512.7,0.01925)(512.7,0.01900)(512.7,0.01875)(512.7,0.01850)(512.7,0.01825)(512.7,0.01800)(512.7,0.01775)(512.7,0.01750)(512.7,0.01725)(512.7,0.01700)(512.7,0.01675)(512.7,0.01650)(512.7,0.01625)(512.7,0.01606)
(513.8,0.01950)(513.8,0.01925)(513.8,0.01900)(513.8,0.01875)(513.8,0.01850)(513.8,0.01825)(513.8,0.01800)(513.8,0.01775)(513.8,0.01750)(513.8,0.01725)(513.8,0.01700)(513.8,0.01675)(513.8,0.01650)(513.8,0.01625)(513.8,0.01594)
(514.8,0.01962)(514.8,0.01935)(514.8,0.01910)(514.8,0.01885)(514.8,0.01860)(514.8,0.01835)(514.8,0.01810)(514.8,0.01785)(514.8,0.01760)(514.8,0.01735)(514.8,0.01710)(514.8,0.01685)(514.8,0.01660)(514.8,0.01635)(514.8,0.01610)(514.8,0.01585)(514.8,0.01565)(514.8,0.01544)
(515.7,0.02213)(515.7,0.02190)(515.7,0.02175)(515.7,0.02121)(515.7,0.02088)(515.7,0.02063)(515.7,0.02035)(515.7,0.02010)(515.7,0.01985)(515.7,0.01960)(515.7,0.01935)(515.7,0.01910)(515.7,0.01885)(515.7,0.01860)(515.7,0.01835)(515.7,0.01810)(515.7,0.01785)(515.7,0.01760)(515.7,0.01735)(515.7,0.01710)(515.7,0.01685)(515.7,0.01660)(515.7,0.01638)(515.7,0.01613)(515.7,0.01562)
(516.7,0.01934)(516.7,0.01910)(516.7,0.01885)(516.7,0.01860)(516.7,0.01835)(516.7,0.01810)(516.7,0.01785)(516.7,0.01760)(516.7,0.01735)(516.7,0.01710)(516.7,0.01685)(516.7,0.01660)(516.7,0.01635)(516.7,0.01610)(516.7,0.01585)(516.7,0.01560)(516.7,0.01535)(516.7,0.01515)(516.7,0.01494)
(517.7,0.01922)(517.7,0.01900)(517.7,0.01875)(517.7,0.01850)(517.7,0.01825)(517.7,0.01800)(517.7,0.01775)(517.7,0.01750)(517.7,0.01725)(517.7,0.01700)(517.7,0.01675)(517.7,0.01650)(517.7,0.01625)(517.7,0.01600)(517.7,0.01575)(517.7,0.01550)(517.7,0.01525)(517.7,0.01494)(517.7,0.01453)(517.7,0.01403)
(518.75,0.01882)(518.75,0.01855)(518.75,0.01830)(518.75,0.01805)(518.75,0.01780)(518.75,0.01755)(518.75,0.01730)(518.75,0.01705)(518.75,0.01680)(518.75,0.01655)(518.75,0.01630)(518.75,0.01605)(518.75,0.01580)(518.75,0.01555)(518.75,0.01530)(518.75,0.01513)(518.75,0.01473)
(519.7,0.01884)(519.7,0.01860)(519.7,0.01835)(519.7,0.01810)(519.7,0.01785)(519.7,0.01760)(519.7,0.01735)(519.7,0.01710)(519.7,0.01685)(519.7,0.01660)(519.7,0.01635)(519.7,0.01610)(519.7,0.01585)(519.7,0.01560)(519.7,0.01535)(519.7,0.01510)(519.7,0.01485)(519.7,0.01463)
(520.7,0.02160)(520.7,0.02113)(520.7,0.02090)(520.7,0.02065)(520.7,0.02040)(520.7,0.02015)(520.7,0.01990)(520.7,0.01965)(520.7,0.01940)(520.7,0.01915)(520.7,0.01890)(520.7,0.01865)(520.7,0.01840)(520.7,0.01815)(520.7,0.01790)(520.7,0.01765)(520.7,0.01740)(520.7,0.01715)(520.7,0.01690)(520.7,0.01665)(520.7,0.01640)(520.7,0.01613)(520.7,0.01575)
(521.75,0.02263)(521.75,0.02231)(521.75,0.02181)(521.75,0.02160)(521.75,0.02138)(521.75,0.02106)(521.75,0.02080)(521.75,0.02055)(521.75,0.02030)(521.75,0.02005)(521.75,0.01980)(521.75,0.01955)(521.75,0.01930)(521.75,0.01905)(521.75,0.01880)(521.75,0.01855)(521.75,0.01830)(521.75,0.01805)(521.75,0.01781)
(522.8,0.02590)(522.8,0.02575)(522.8,0.02531)(522.8,0.02440)(522.8,0.02379)(522.8,0.02362)(522.8,0.02288)(522.8,0.02231)(522.8,0.02175)(522.8,0.02144)(522.8,0.02120)(522.8,0.02095)(522.8,0.02070)(522.8,0.02045)(522.8,0.02020)(522.8,0.01995)(522.8,0.01970)(522.8,0.01945)(522.8,0.01920)(522.8,0.01895)(522.8,0.01870)(522.8,0.01845)(522.8,0.01820)(522.8,0.01795)(522.8,0.01770)(522.8,0.01745)(522.8,0.01713)
(523.7,0.01931)(523.7,0.01856)(523.7,0.01800)(523.7,0.01780)(523.7,0.01763)(523.7,0.01663)
(524.7,0.02300)(524.7,0.02263)(524.7,0.02231)(524.7,0.02200)(524.7,0.02131)(524.7,0.02105)(524.7,0.02080)(524.7,0.02055)(524.7,0.02030)(524.7,0.02005)(524.7,0.01980)(524.7,0.01955)(524.7,0.01930)(524.7,0.01905)(524.7,0.01880)(524.7,0.01855)(524.7,0.01830)(524.7,0.01805)(524.7,0.01780)(524.7,0.01755)(524.7,0.01730)(524.7,0.01705)(524.7,0.01680)(524.7,0.01655)(524.7,0.01630)(524.7,0.01605)(524.7,0.01588)
(525.7,0.02490)(525.7,0.02390)(525.7,0.02369)(525.7,0.02331)(525.7,0.02310)(525.7,0.02294)(525.7,0.02219)(525.7,0.02181)(525.7,0.02155)(525.7,0.02130)(525.7,0.02105)(525.7,0.02080)(525.7,0.02055)(525.7,0.02030)(525.7,0.02005)(525.7,0.01980)(525.7,0.01955)(525.7,0.01930)(525.7,0.01905)(525.7,0.01880)(525.7,0.01855)(525.7,0.01838)(525.7,0.01800)
(532.5,0.01330)(532.5,0.01310)(532.5,0.01270)(532.5,0.01245)(532.5,0.01220)(532.5,0.01200)(532.5,0.01180)(532.5,0.01160)(532.5,0.01140)(532.5,0.01120)(532.5,0.01100)(532.5,0.01080)(532.5,0.01060)(532.5,0.01040)(532.5,0.01020)(532.5,0.01000)(532.5,0.00980)(532.5,0.00960)(532.5,0.00940)(532.5,0.00920)(532.5,0.00900)(532.5,0.00880)(532.5,0.00870)
(535.7,0.01124)(535.7,0.01095)(535.7,0.01075)(535.7,0.01055)(535.7,0.01035)(535.7,0.01015)(535.7,0.00995)(535.7,0.00975)(535.7,0.00955)(535.7,0.00935)(535.7,0.00915)(535.7,0.00892)
(536.8,0.01179)(536.8,0.01160)(536.8,0.01140)(536.8,0.01120)(536.8,0.01100)(536.8,0.01080)(536.8,0.01060)(536.8,0.01040)(536.8,0.01020)(536.8,0.01000)(536.8,0.00980)(536.8,0.00960)(536.8,0.00950)
(537.7,0.01146)(537.7,0.01125)(537.7,0.01105)(537.7,0.01085)(537.7,0.01065)(537.7,0.01045)(537.7,0.01025)(537.7,0.01005)(537.7,0.00985)(537.7,0.00961)(537.7,0.00943)
(538.7,0.01233)(538.7,0.01211)(538.7,0.01190)(538.7,0.01170)(538.7,0.01150)(538.7,0.01130)(538.7,0.01110)(538.7,0.01090)(538.7,0.01070)(538.7,0.01050)(538.7,0.01030)(538.7,0.01010)(538.7,0.00990)(538.7,0.00961)(538.7,0.00943)
(539.7,0.01592)(539.7,0.01561)(539.7,0.01522)(539.7,0.01441)(539.7,0.01415)(539.7,0.01404)(539.7,0.01385)(539.7,0.01363)(539.7,0.01340)(539.7,0.01317)(539.7,0.01300)(539.7,0.01285)(539.7,0.01265)(539.7,0.01245)(539.7,0.01225)(539.7,0.01205)(539.7,0.01185)(539.7,0.01165)(539.7,0.01145)(539.7,0.01125)(539.7,0.01095)(539.7,0.01068)(539.7,0.01053)(539.7,0.01012)(539.7,0.00995)(539.7,0.00970)(539.7,0.00950)(539.7,0.00925)(539.7,0.00914)
(540.7,0.01364)(540.7,0.01299)(540.7,0.01275)(540.7,0.01255)(540.7,0.01235)(540.7,0.01215)(540.7,0.01195)(540.7,0.01175)(540.7,0.01155)(540.7,0.01135)(540.7,0.01115)(540.7,0.01095)(540.7,0.01075)(540.7,0.01055)(540.7,0.01035)(540.7,0.01015)(540.7,0.00995)(540.7,0.00983)
(541.8,0.01404)(541.8,0.01380)(541.8,0.01360)(541.8,0.01340)(541.8,0.01320)(541.8,0.01300)(541.8,0.01280)(541.8,0.01260)(541.8,0.01240)(541.8,0.01220)(541.8,0.01200)(541.8,0.01180)(541.8,0.01160)(541.8,0.01140)(541.8,0.01120)(541.8,0.01100)(541.8,0.01080)(541.8,0.01060)(541.8,0.01040)(541.8,0.01020)(541.8,0.01000)(541.8,0.00985)(541.8,0.00972)
(542.7,0.01346)(542.7,0.01328)(542.7,0.01310)(542.7,0.01255)(542.7,0.01238)(542.7,0.01222)(542.7,0.01197)(542.7,0.01175)(542.7,0.01155)(542.7,0.01135)(542.7,0.01115)(542.7,0.01095)(542.7,0.01075)(542.7,0.01055)(542.7,0.01035)(542.7,0.01015)(542.7,0.00995)(542.7,0.00968)(542.7,0.00943)
(543.7,0.01542)(543.7,0.01512)(543.7,0.01487)(543.7,0.01465)(543.7,0.01440)(543.7,0.01415)(543.7,0.01404)(543.7,0.01354)(543.7,0.01335)(543.7,0.01315)(543.7,0.01295)(543.7,0.01275)(543.7,0.01255)(543.7,0.01235)(543.7,0.01215)(543.7,0.01195)(543.7,0.01175)(543.7,0.01155)(543.7,0.01135)(543.7,0.01115)(543.7,0.01095)(543.7,0.01075)(543.7,0.01055)(543.7,0.01035)(543.7,0.01015)(543.7,0.00995)(543.7,0.00975)(543.7,0.00954)
(544.6,0.03293)(544.6,0.02814)(544.6,0.02635)(544.6,0.02605)(544.6,0.02555)(544.6,0.02443)(544.6,0.02318)(544.6,0.02193)(544.6,0.02140)(544.6,0.02048)(544.6,0.01925)(544.6,0.01732)(544.6,0.01712)(544.6,0.01650)(544.6,0.01513)(544.6,0.01473)(544.6,0.01375)(544.6,0.01360)(544.6,0.01324)(544.6,0.01291)(544.6,0.01284)(544.6,0.01233)(544.6,0.01215)(544.6,0.01200)(544.6,0.01164)
(545.8,0.01186)(545.8,0.01165)(545.8,0.01145)(545.8,0.01125)(545.8,0.01105)(545.8,0.01085)(545.8,0.01065)(545.8,0.01041)
(546.7,0.01531)(546.7,0.01524)(546.7,0.01473)(546.7,0.01455)(546.7,0.01440)(546.7,0.01404)(546.7,0.01385)(546.7,0.01365)(546.7,0.01345)(546.7,0.01331)(546.7,0.01317)(546.7,0.01295)(546.7,0.01275)(546.7,0.01255)(546.7,0.01235)(546.7,0.01215)(546.7,0.01195)(546.7,0.01171)
(547.7,0.01233)(547.7,0.01200)(547.7,0.01180)(547.7,0.01160)(547.7,0.01140)(547.7,0.01120)(547.7,0.01100)(547.7,0.01080)(547.7,0.01060)(547.7,0.01041)
(548.7,0.01324)(548.7,0.01305)(548.7,0.01285)(548.7,0.01265)(548.7,0.01245)(548.7,0.01230)(548.7,0.01197)(548.7,0.01175)(548.7,0.01155)(548.7,0.01135)(548.7,0.01115)(548.7,0.01095)(548.7,0.01075)(548.7,0.01052)
(549.7,0.02874)(549.7,0.02229)(549.7,0.02200)(549.7,0.01900)(549.7,0.01763)(549.7,0.01750)(549.7,0.01572)(549.7,0.01531)(549.7,0.01512)(549.7,0.01502)(549.7,0.01483)(549.7,0.01458)(549.7,0.01445)(549.7,0.01433)(549.7,0.01404)(549.7,0.01385)(549.7,0.01365)(549.7,0.01345)(549.7,0.01325)(549.7,0.01305)(549.7,0.01291)(549.7,0.01262)(549.7,0.01230)(549.7,0.01211)
(551.8,0.01552)(551.8,0.01531)(551.8,0.01502)(551.8,0.01433)(551.8,0.01342)(551.8,0.01328)(551.8,0.01313)(551.8,0.01262)(551.8,0.01244)(551.8,0.01225)(551.8,0.01205)(551.8,0.01185)(551.8,0.01165)(551.8,0.01145)(551.8,0.01125)(551.8,0.01110)(551.8,0.01092)
(555.7,0.01422)(555.7,0.01295)(555.7,0.01270)(555.7,0.01251)(555.7,0.01230)(555.7,0.01210)(555.7,0.01190)(555.7,0.01170)(555.7,0.01150)(555.7,0.01130)(555.7,0.01106)(555.7,0.01074)
(556.7,0.01552)(556.7,0.01523)(556.7,0.01512)(556.7,0.01473)(556.7,0.01460)(556.7,0.01447)(556.7,0.01422)(556.7,0.01391)(556.7,0.01364)(556.7,0.01333)(556.7,0.01313)(556.7,0.01272)(556.7,0.01251)(556.7,0.01244)(556.7,0.01193)(556.7,0.01172)(556.7,0.01152)(556.7,0.01132)(556.7,0.01095)(556.7,0.01078)(556.7,0.01060)(556.7,0.01045)(556.7,0.01012)(556.7,0.01005)
(557.8,0.01441)(557.8,0.01382)(557.8,0.01295)(557.8,0.01270)(557.8,0.01244)(557.8,0.01225)(557.8,0.01205)(557.8,0.01185)(557.8,0.01164)(557.8,0.01135)(557.8,0.01120)(557.8,0.01106)(557.8,0.01074)(557.8,0.01023)(557.8,0.01005)(557.8,0.00986)(557.8,0.00965)(557.8,0.00945)(557.8,0.00921)
(558.8,0.01581)(558.8,0.01531)(558.8,0.01502)(558.8,0.01441)(558.8,0.01422)(558.8,0.01382)(558.8,0.01367)(558.8,0.01353)(558.8,0.01302)(558.8,0.01291)(558.8,0.01251)(558.8,0.01222)(558.8,0.01202)(558.8,0.01113)(558.8,0.01063)(558.8,0.01005)(558.8,0.00972)(558.8,0.00950)(558.8,0.00925)(558.8,0.00903)
(559.75,0.01233)(559.75,0.01204)(559.75,0.01182)(559.75,0.01153)(559.75,0.01135)(559.75,0.01115)(559.75,0.01095)(559.75,0.01075)(559.75,0.01060)(559.75,0.01045)(559.75,0.01016)(559.75,0.01000)(559.75,0.00986)(559.75,0.00976)(559.75,0.00943)(559.75,0.00925)(559.75,0.00905)(559.75,0.00885)
(560.6,0.02183)(560.6,0.01838)(560.6,0.01572)(560.6,0.01542)(560.6,0.01511)(560.6,0.01371)(560.6,0.01364)(560.6,0.01324)(560.6,0.01309)(560.6,0.01284)(560.6,0.01262)(560.6,0.01244)(560.6,0.01215)(560.6,0.01200)(560.6,0.01186)(560.6,0.01164)(560.6,0.01145)(560.6,0.01128)(560.6,0.01113)(560.6,0.01084)(560.6,0.01065)(560.6,0.01045)(560.6,0.01023)(560.6,0.00994)(560.6,0.00965)(560.6,0.00936)(560.6,0.00920)(560.6,0.00903)
(561.7,0.01182)(561.7,0.01144)(561.7,0.01125)(561.7,0.01105)(561.7,0.01085)(561.7,0.01070)(561.7,0.01055)(561.7,0.01037)(561.7,0.01018)(561.7,0.00998)(561.7,0.00979)(561.7,0.00957)(561.7,0.00945)(561.7,0.00932)(561.7,0.00903)
(563.8,0.01113)(563.8,0.01098)(563.8,0.01084)(563.8,0.01074)(563.8,0.01063)(563.8,0.01034)(563.8,0.01015)(563.8,0.00995)(563.8,0.00975)(563.8,0.00955)(563.8,0.00932)
(564.7,0.01373)(564.7,0.01197)(564.7,0.01180)(564.7,0.01160)(564.7,0.01140)(564.7,0.01120)(564.7,0.01100)(564.7,0.01080)(564.7,0.01065)(564.7,0.01052)(564.7,0.01016)(564.7,0.00998)(564.7,0.00980)(564.7,0.00960)(564.7,0.00943)
(565.7,0.02047)(565.7,0.01255)(565.7,0.01230)(565.7,0.01210)(565.7,0.01190)(565.7,0.01170)(565.7,0.01150)(565.7,0.01135)(565.7,0.01121)(565.7,0.01026)(565.7,0.01015)(565.7,0.01005)(565.7,0.00972)(565.7,0.00961)
(566.7,0.01364)(566.7,0.01342)(566.7,0.01331)(566.7,0.01320)(566.7,0.01266)(566.7,0.01245)(566.7,0.01225)(566.7,0.01205)(566.7,0.01185)(566.7,0.01165)(566.7,0.01145)(566.7,0.01125)(566.7,0.01105)(566.7,0.01085)(566.7,0.01065)(566.7,0.01045)(566.7,0.01023)(566.7,0.00997)(566.7,0.00975)(566.7,0.00955)(566.7,0.00935)(566.7,0.00907)
(567.7,0.01317)(567.7,0.01300)(567.7,0.01284)(567.7,0.01251)(567.7,0.01231)(567.7,0.01211)(567.7,0.01175)(567.7,0.01155)(567.7,0.01135)(567.7,0.01115)(567.7,0.01095)(567.7,0.01084)(567.7,0.01015)(567.7,0.00995)(567.7,0.00975)(567.7,0.00955)(567.7,0.00935)(567.7,0.00921)
(568.7,0.01266)(568.7,0.01255)(568.7,0.01244)(568.7,0.01215)(568.7,0.01195)(568.7,0.01175)(568.7,0.01155)(568.7,0.01135)(568.7,0.01115)(568.7,0.01095)(568.7,0.01075)(568.7,0.01055)(568.7,0.01035)(568.7,0.01015)(568.7,0.01001)
(569.75,0.01175)(569.75,0.01155)(569.75,0.01135)(569.75,0.01115)(569.75,0.01095)(569.75,0.01075)(569.75,0.01063)(569.75,0.01048)(569.75,0.01030)(569.75,0.01010)(569.75,0.00990)(569.75,0.00970)(569.75,0.00950)(569.75,0.00930)(569.75,0.00910)(569.75,0.00892)
(570.8,0.01215)(570.8,0.01204)(570.8,0.01193)(570.8,0.01153)(570.8,0.01135)(570.8,0.01115)(570.8,0.01095)(570.8,0.01077)(570.8,0.01034)(570.8,0.01015)(570.8,0.00995)(570.8,0.00976)(570.8,0.00947)(570.8,0.00925)(570.8,0.00903)
(572.7,0.01106)(572.7,0.01090)(572.7,0.01072)(572.7,0.01055)(572.7,0.01016)(572.7,0.00998)(572.7,0.00980)(572.7,0.00960)(572.7,0.00940)(572.7,0.00920)(572.7,0.00892)
(573.7,0.01322)(573.7,0.01175)(573.7,0.01155)(573.7,0.01135)(573.7,0.01115)(573.7,0.01095)(573.7,0.01075)(573.7,0.01055)(573.7,0.01037)(573.7,0.01017)(573.7,0.00997)(573.7,0.00977)(573.7,0.00957)(573.7,0.00940)(573.7,0.00921)
(574.7,0.01144)(574.7,0.01085)(574.7,0.01065)(574.7,0.01045)(574.7,0.01025)(574.7,0.01005)(574.7,0.00985)(574.7,0.00961)
};
\end{axis}
\node[anchor=base, font=\fontsize{24}{29}\selectfont] at (369pt,385.2pt) {Magnitude error vs JD};
\node[anchor=base, font=\fontsize{24}{29}\selectfont] at (368pt,28.8pt) {JD (day)};
\node[anchor=base, rotate=90, font=\fontsize{24}{29}\selectfont] at (22.8pt,231.5pt) {Mag error (mag)};
\node[anchor=base east, inner sep=0pt, font=\fontsize{20}{24}\selectfont] at (647.5pt,32.4pt) {+2.456e6};
\end{tikzpicture}
\end{document}
